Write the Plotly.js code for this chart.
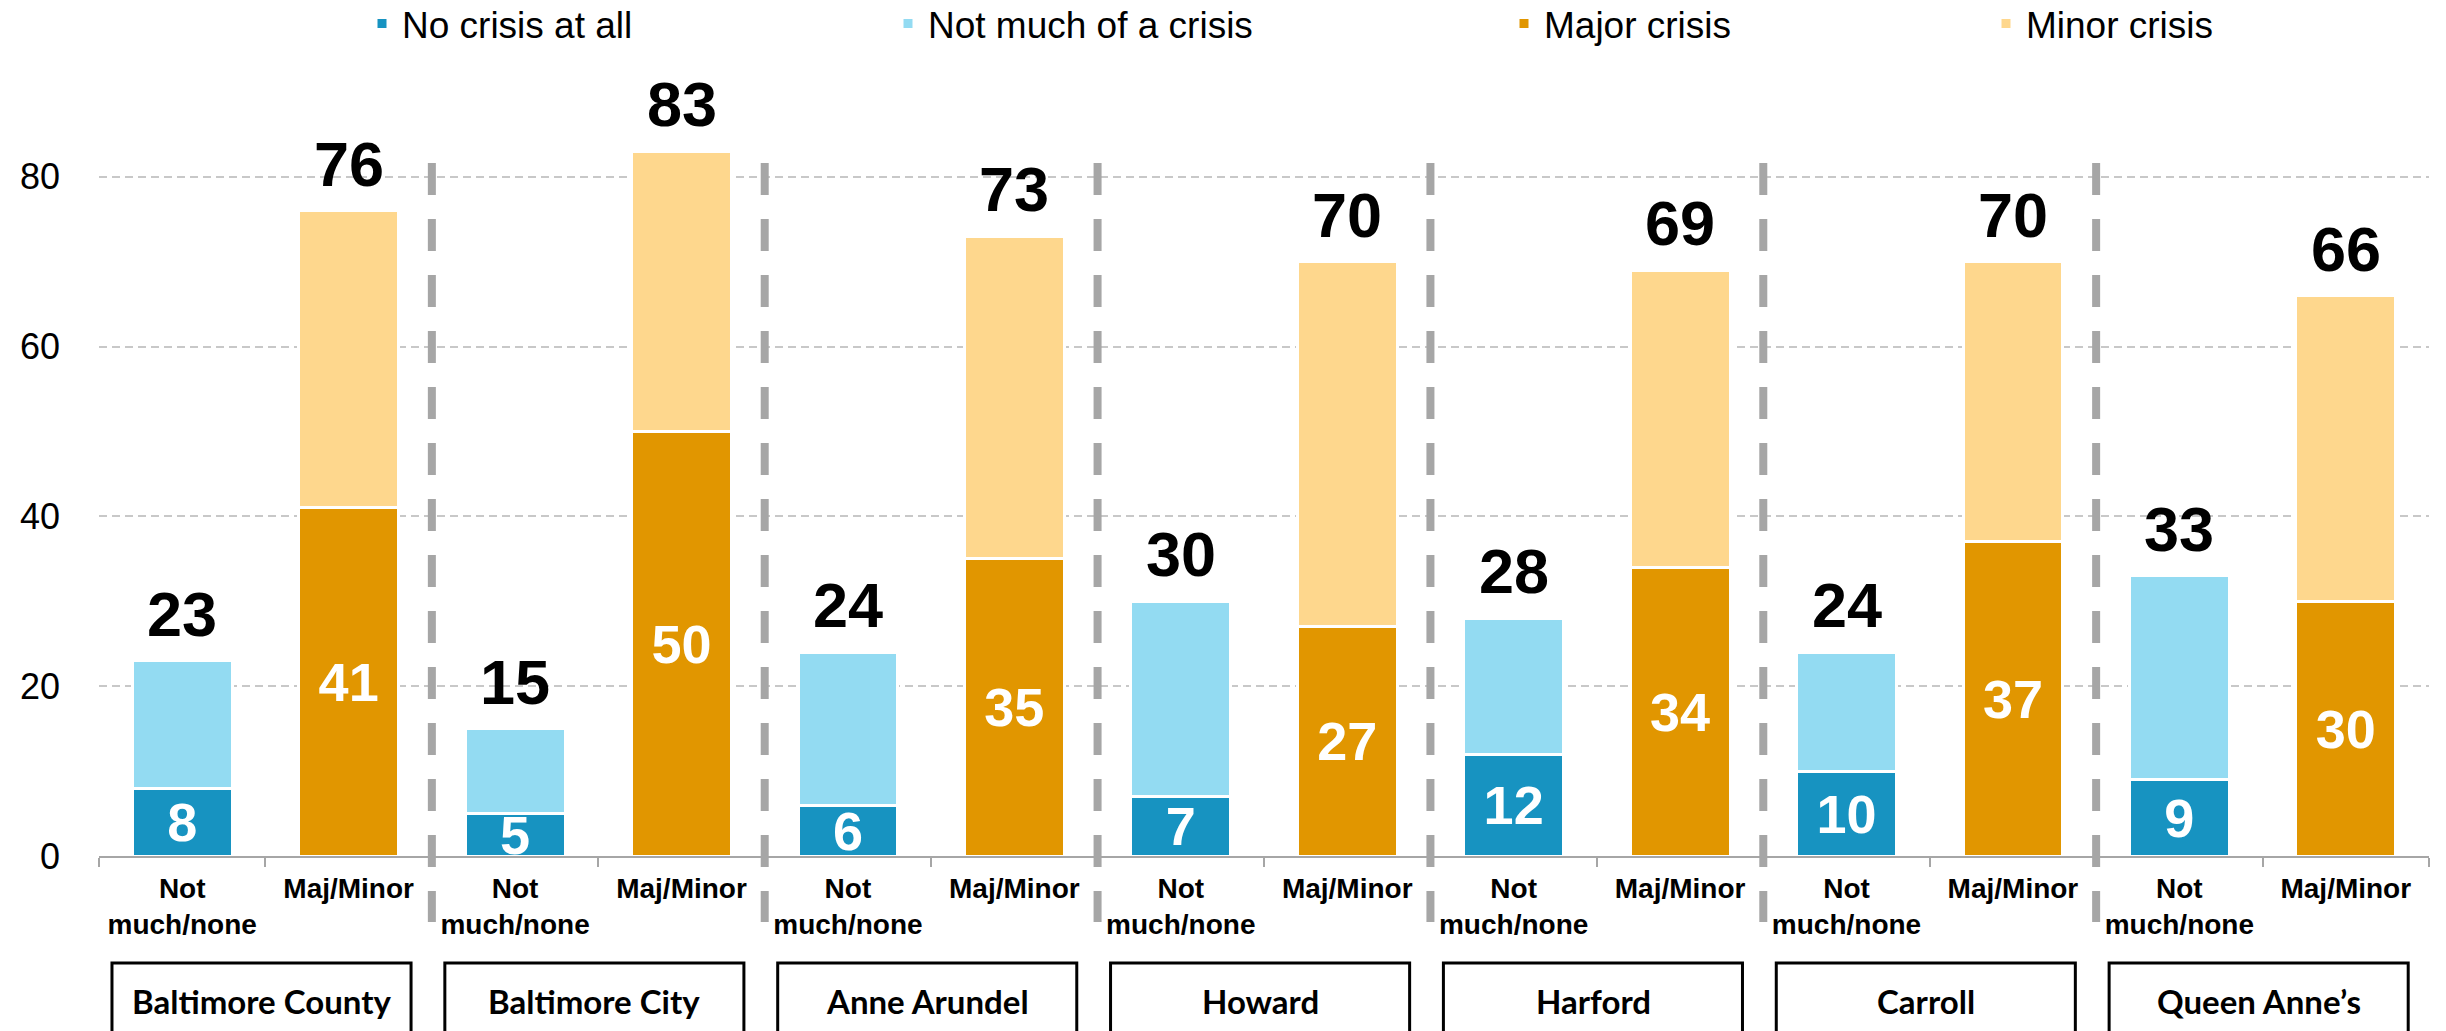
<!DOCTYPE html>
<html>
<head>
<meta charset="utf-8">
<script src="https://cdn.plot.ly/plotly-3.0.1.min.js"></script>
<style>
  html, body { margin: 0; padding: 0; background: #fff; }
  #chart { width: 2446px; height: 1031px; }
</style>
</head>
<body>
<div id="chart"></div>
<script>
const groups = ['Baltimore County', 'Baltimore City', 'Anne Arundel', 'Howard', 'Harford', 'Carroll', 'Queen Anne’s'];
const subLabels = ['Not<br>much/none', 'Maj/Minor'];
const seriesNames = ['No crisis at all', 'Not much of a crisis', 'Major crisis', 'Minor crisis'];
const seriesColors = ['#1793C1', '#93DBF2', '#E19600', '#FED78D'];

const noCrisis = [8, 5, 6, 7, 12, 10, 9];
const notMuchCrisis = [15, 10, 18, 23, 16, 14, 24];
const majorCrisis = [41, 50, 35, 27, 34, 37, 30];
const minorCrisis = [35, 33, 38, 43, 35, 33, 36];

// legend marker centres, px in the 2446 wide page
const legendCenters = [382, 908, 1524, 2006];

function drawChart() {
    const notCats = groups.map(g => g + ' | not');
    const majCats = groups.map(g => g + ' | maj');
    const allCats = [];
    groups.forEach((g, i) => { allCats.push(notCats[i], majCats[i]); });
    const tickText = groups.flatMap(() => subLabels);

    const baseFont = 'Liberation Sans, Arial, sans-serif';
    const outline = { color: '#ffffff', width: 3 };
    const insideFont = { family: baseFont, size: 54, color: '#ffffff', weight: 'bold' };

    const traces = [
        { x: notCats, y: noCrisis, series: 0, labelled: true },
        { x: notCats, y: notMuchCrisis, series: 1, labelled: false },
        { x: majCats, y: majorCrisis, series: 2, labelled: true },
        { x: majCats, y: minorCrisis, series: 3, labelled: false }
    ].map((t, k) => ({
        type: 'bar',
        name: seriesNames[t.series],
        x: t.x,
        y: t.y,
        marker: { color: seriesColors[t.series], line: outline },
        text: t.labelled ? t.y.map(String) : null,
        texttemplate: t.labelled ? '%{text}' : '',
        textposition: t.labelled ? 'inside' : 'none',
        insidetextanchor: 'middle',
        constraintext: 'none',
        textangle: 0,
        textfont: insideFont,
        legend: k === 0 ? 'legend' : 'legend' + (k + 1),
        hoverinfo: 'x+y+name'
    }));

    // totals above every bar
    const annotations = [];
    groups.forEach((g, i) => {
        const totNot = noCrisis[i] + notMuchCrisis[i];
        const totMaj = majorCrisis[i] + minorCrisis[i];
        [[notCats[i], totNot], [majCats[i], totMaj]].forEach(([cx, tot]) => {
            annotations.push({
                x: cx, y: tot, xref: 'x', yref: 'y',
                text: String(tot), showarrow: false,
                yanchor: 'bottom', yshift: 10,
                font: { family: baseFont, size: 63, color: '#000', weight: 'bold' }
            });
        });
        // county name in its box
        annotations.push({
            x: 2 * i + 0.477, y: -0.19, xref: 'x', yref: 'paper',
            text: g, showarrow: false, yanchor: 'middle',
            font: { family: 'Lato, sans-serif', size: 33, color: '#000', weight: 'bold' }
        });
    });

    const shapes = [];
    groups.forEach((g, i) => {
        shapes.push({
            type: 'rect', xref: 'x', yref: 'paper',
            x0: 2 * i - 0.422, x1: 2 * i + 1.375, y0: -0.1401, y1: -0.26,
            line: { color: '#000', width: 3 }, fillcolor: 'rgba(0,0,0,0)', layer: 'above'
        });
        if (i < groups.length - 1) {
            shapes.push({
                type: 'line', xref: 'x', yref: 'paper',
                x0: 2 * i + 1.5, x1: 2 * i + 1.5, y0: 0.9071, y1: -0.0864,
                line: { color: '#A6A6A6', width: 8, dash: '32px,24px' }, layer: 'above'
            });
        }
    });

    const legendBase = (k) => ({
        orientation: 'h',
        xref: 'container', yref: 'container',
        x: (legendCenters[k] - 20) / 2446, y: 1 - 24 / 1031,
        xanchor: 'left', yanchor: 'middle',
        bgcolor: 'rgba(0,0,0,0)',
        font: { family: baseFont, size: 37, color: '#000' }
    });

    const layout = {
        width: 2446,
        height: 1031,
        margin: { l: 99, r: 17, t: 92, b: 175 },
        paper_bgcolor: '#fff',
        plot_bgcolor: '#fff',
        barmode: 'stack',
        bargap: 0.4,
        showlegend: true,
        legend: legendBase(0),
        legend2: legendBase(1),
        legend3: legendBase(2),
        legend4: legendBase(3),
        xaxis: {
            type: 'category',
            categoryorder: 'array',
            categoryarray: allCats,
            tickmode: 'array',
            tickvals: allCats,
            ticktext: tickText,
            tickson: 'boundaries',
            ticks: 'outside',
            ticklen: 9,
            tickwidth: 2,
            tickcolor: '#A6A6A6',
            ticklabelstandoff: 6,
            showline: true,
            linecolor: '#A6A6A6',
            linewidth: 2,
            showgrid: false,
            tickfont: { family: baseFont, size: 28, color: '#000', weight: 'bold' },
            fixedrange: true
        },
        yaxis: {
            range: [0, 90],
            tickvals: [0, 20, 40, 60, 80],
            showgrid: true,
            gridcolor: '#C8C8C8',
            gridwidth: 2,
            griddash: '8px,5px',
            zeroline: false,
            showline: false,
            ticks: '',
            ticklabelstandoff: 38,
            tickfont: { family: baseFont, size: 36, color: '#000' },
            fixedrange: true
        },
        annotations: annotations,
        shapes: shapes
    };

    Plotly.newPlot('chart', traces, layout, { displayModeBar: false, staticPlot: true });
}

document.addEventListener('DOMContentLoaded', drawChart);
</script>
</body>
</html>
